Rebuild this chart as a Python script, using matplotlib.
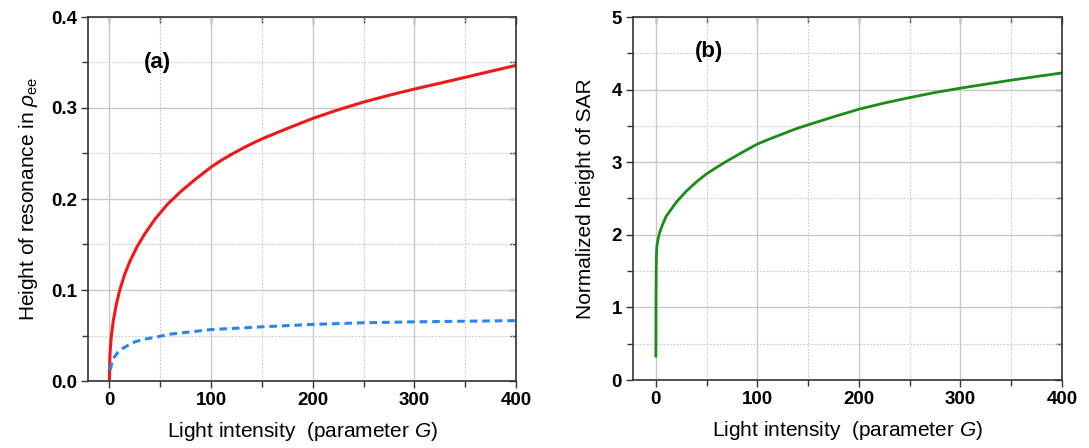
import matplotlib
matplotlib.use("Agg")
import matplotlib.pyplot as plt
from matplotlib.ticker import MultipleLocator, FormatStrFormatter

# ---- data ----
g_red = [0, 0.5, 1, 2, 4, 7, 10, 15, 20, 27, 35, 45, 57, 70, 85, 100, 110, 120, 135, 150, 175, 200, 225, 250,
         275, 300, 325, 350, 375, 400]
v_red = [0, 0.026, 0.036, 0.05, 0.067, 0.085, 0.099, 0.117, 0.131, 0.147, 0.162, 0.178, 0.194, 0.208, 0.222,
         0.235, 0.2425, 0.249, 0.258, 0.266, 0.2775, 0.2885, 0.298, 0.3065, 0.314, 0.3208, 0.3272, 0.3337, 0.3403,
         0.3468]

g_blue = [1, 2, 4, 8, 12, 18, 25, 35, 45, 60, 80, 100, 125, 150, 200, 250, 300, 350, 400]
v_blue = [0.012, 0.018, 0.025, 0.031, 0.035, 0.039, 0.043, 0.046, 0.048, 0.0515, 0.054, 0.0565, 0.058, 0.0595,
          0.0622, 0.064, 0.065, 0.0657, 0.0663]

g_green = [0, 0.1, 0.2, 0.35, 0.6, 1, 2, 3.5, 6, 10, 15, 21, 30, 40, 50, 60, 70, 85, 100, 112, 125, 137, 150,
           175, 200, 225, 250, 275, 300, 350, 400]
v_green = [0.33, 0.8, 1.2, 1.5, 1.72, 1.84, 1.93, 2.02, 2.12, 2.25, 2.35, 2.465, 2.6, 2.73, 2.84, 2.93, 3.015,
           3.135, 3.25, 3.32, 3.39, 3.455, 3.515, 3.625, 3.73, 3.815, 3.89, 3.96, 4.02, 4.13, 4.23]

xticks = [0, 100, 200, 300, 400]
xlabel = "Light intensity  (parameter $G$)"
ylabel_a = r"Height of resonance in $\rho_{\mathrm{ee}}$"
ylabel_b = "Normalized height of SAR"

plt.rcParams["font.family"] = ["Liberation Sans", "DejaVu Sans"]
plt.rcParams["mathtext.fontset"] = "custom"
plt.rcParams["mathtext.rm"] = "Liberation Sans"
plt.rcParams["mathtext.it"] = "Liberation Sans:italic"
plt.rcParams["mathtext.bf"] = "Liberation Sans:bold"

fig = plt.figure(figsize=(10.89, 4.48), dpi=100)
ax_a = fig.add_axes([88 / 1089, 1 - 381 / 448, (516 - 88) / 1089, (381 - 17) / 448])
ax_b = fig.add_axes([633 / 1089, 1 - 380 / 448, (1062 - 633) / 1089, (380 - 17) / 448])

spine_col = "#333333"
grid_col = "#c8c8c8"


def style(ax, xlim, ylim, ymaj, ymin, fmt):
    ax.set_xlim(*xlim)
    ax.set_ylim(*ylim)
    ax.set_xticks(xticks)
    ax.xaxis.set_minor_locator(MultipleLocator(50))
    ax.yaxis.set_major_locator(MultipleLocator(ymaj))
    ax.yaxis.set_minor_locator(MultipleLocator(ymin))
    ax.yaxis.set_major_formatter(FormatStrFormatter(fmt))
    ax.grid(which="major", color=grid_col, lw=1.0, ls="-")
    ax.grid(which="minor", color=grid_col, lw=0.8, ls=(0, (1.5, 1.5)))
    ax.set_axisbelow(True)
    for s in ax.spines.values():
        s.set_color(spine_col)
        s.set_linewidth(1.2)
    ax.tick_params(which="both", direction="out", color=spine_col, width=1.0,
                   labelsize=13.5, pad=3)
    ax.tick_params(which="major", length=5)
    ax.tick_params(which="minor", length=4)
    for lab in ax.get_xticklabels() + ax.get_yticklabels():
        lab.set_fontweight("bold")
    # mirrored inward ticks on top and right
    top = ax.secondary_xaxis("top")
    top.set_xticks(xticks)
    top.xaxis.set_minor_locator(MultipleLocator(50))
    top.tick_params(which="both", direction="in", labeltop=False, color=spine_col, width=1.0)
    top.tick_params(which="major", length=5)
    top.tick_params(which="minor", length=4)
    top.spines["top"].set_visible(False)
    right = ax.secondary_yaxis("right")
    right.yaxis.set_major_locator(MultipleLocator(ymaj))
    right.yaxis.set_minor_locator(MultipleLocator(ymin))
    right.tick_params(which="both", direction="in", labelright=False, color=spine_col, width=1.0)
    right.tick_params(which="major", length=5)
    right.tick_params(which="minor", length=4)
    right.spines["right"].set_visible(False)


ax_a.plot(g_red, v_red, color="#f01818", lw=2.2)
ax_a.plot(g_blue, v_blue, color="#2a86ee", lw=2.2, ls=(0, (2.5, 1.6)))
style(ax_a, (-21, 400), (0, 0.4), 0.1, 0.05, "%.1f")
ax_a.set_xlabel(xlabel, fontsize=15, labelpad=8)
ax_a.set_ylabel(ylabel_a, fontsize=15, labelpad=8)
ax_a.text(47, 0.35, "(a)", fontsize=16, fontweight="bold", ha="center", va="center")

ax_b.plot(g_green, v_green, color="#1a8c1a", lw=2.0)
style(ax_b, (-22.5, 400), (0, 5), 1, 0.5, "%d")
ax_b.set_xlabel(xlabel, fontsize=15, labelpad=8)
ax_b.set_ylabel(ylabel_b, fontsize=15, labelpad=12)
ax_b.text(52, 4.52, "(b)", fontsize=16, fontweight="bold", ha="center", va="center")

fig.savefig("out.png", dpi=100)
